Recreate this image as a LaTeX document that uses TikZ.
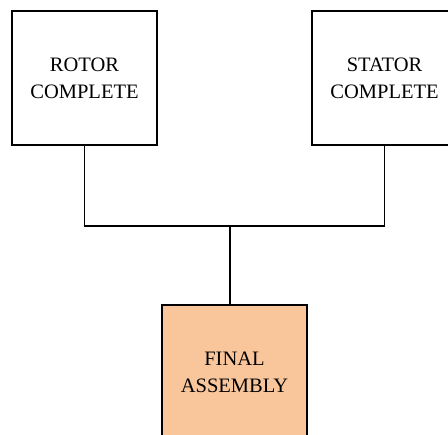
\documentclass[tikz,border=0pt]{standalone}
\usepackage{fontspec}
\setmainfont{Liberation Serif}
\usetikzlibrary{positioning}
\definecolor{peach}{RGB}{249,198,156}

\begin{document}
\begin{tikzpicture}[x=1pt,y=-1pt,
	part/.style={draw,line width=1.2pt,minimum width=145pt,minimum height=134pt,align=center,font=\fontsize{20.5}{27}\selectfont}]
	\clip (0,0) rectangle (448,435);
	\node[part] (rotor) at (84.5,78) {ROTOR\\COMPLETE};
	\node[part] (stator) at (384.5,78) {STATOR\\COMPLETE};
	\node[part,fill=peach] (final) at (234.5,372) {FINAL\\ASSEMBLY};
	\coordinate (join) at (230,226);

	\draw[line width=1.2pt] (rotor.south) -- (rotor.south |- join) -- (stator.south |- join) -- (stator.south);
	\draw[line width=1.2pt] (join) -- (join |- final.north);
\end{tikzpicture}
\end{document}
